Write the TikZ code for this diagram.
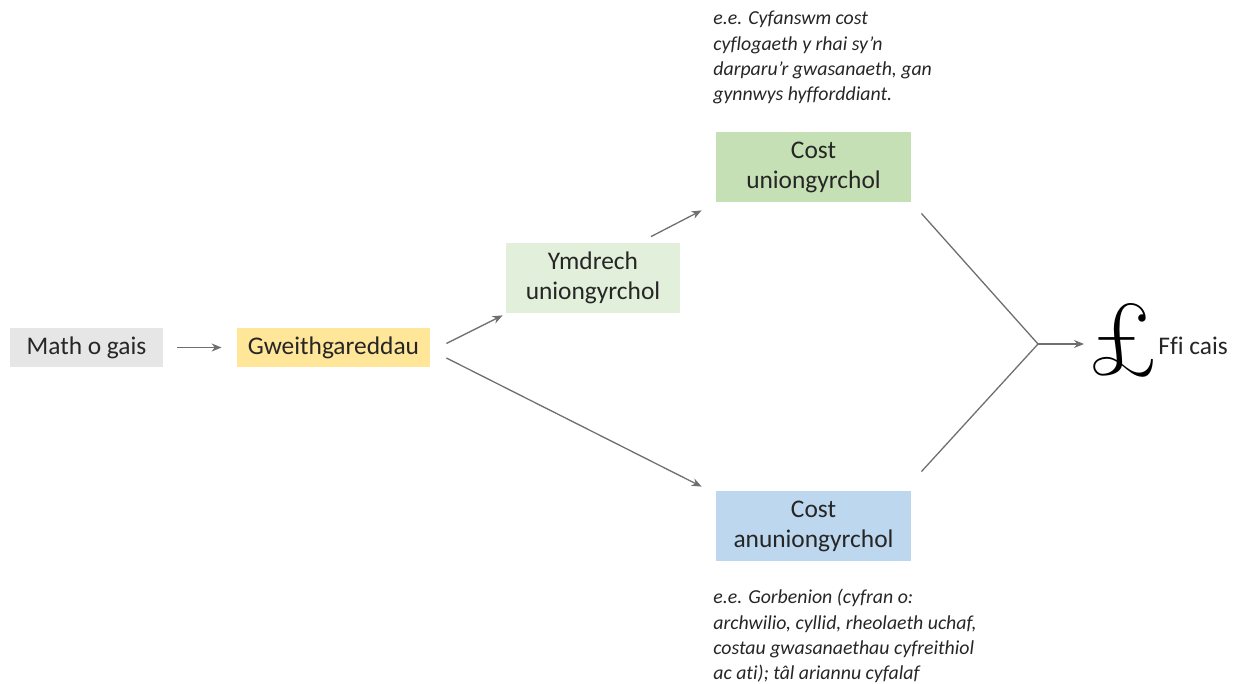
\documentclass[tikz,border=0pt]{standalone}
\usepackage{fontspec}
\setmainfont{Carlito}[Ligatures=NoCommon]
\newfontfamily\lmfont{Latin Modern Roman}
\usetikzlibrary{arrows.meta,calc,positioning}
\definecolor{boxgray}{HTML}{E7E6E6}
\definecolor{boxyellow}{HTML}{FFE699}
\definecolor{boxlgreen}{HTML}{E2EFDA}
\definecolor{boxgreen}{HTML}{C5E0B4}
\definecolor{boxblue}{HTML}{BDD7EE}
\definecolor{txtgray}{HTML}{262626}
\definecolor{argray}{HTML}{6F6F6F}
\tikzset{
	flow diagram/.style={
		x=0.5pt, y=-0.5pt,
		font=\fontsize{12.7}{15}\selectfont,
		text=txtgray},
	box/.style={fill=#1, inner sep=0pt, align=center},
	small box/.style={minimum width=#1, minimum height=19.5pt},
	big box/.style={minimum width=#1, minimum height=35pt},
	ar/.style={draw=argray, line width=0.65pt, -{Stealth[length=5pt,width=4pt]}},
	ln/.style={draw=argray, line width=0.65pt},
	note/.style={font=\fontsize{9.9}{12.6}\selectfont\itshape, align=left,
		inner sep=0pt, anchor=north west}
}

\begin{document}
\begin{tikzpicture}[flow diagram]
   \useasboundingbox (0,0) rectangle (1235,684);
   \node[box=boxgray, small box=76.5pt] (math) at (86.5,347.5) {Math o gais};
   \node[box=boxyellow, small box=96.5pt] (gweith) at (333.5,347.5) {Gweithgareddau};
   \node[box=boxlgreen, big box=87pt] (ymdrech) at (593,278) {Ymdrech\\uniongyrchol};
   \node[box=boxgreen, big box=97.5pt] (costu) at (813.5,167) {Cost\\uniongyrchol};
   \node[box=boxblue, big box=97.5pt] (costa) at (813.5,526) {Cost\\anuniongyrchol};
   \node[font=\lmfont\fontsize{52}{52}\selectfont, text=black, inner sep=0pt, anchor=base]
      (pound) at (1124,374) {£};
   \node[anchor=west, inner sep=0pt] (ffi) at (1158,346) {Ffi cais};
   \node[note] (noteu) at (713,11)
      {e.e. Cyfanswm cost\\cyflogaeth y rhai sy'n\\darparu'r gwasanaeth, gan\\gynnwys hyfforddiant.};
   \node[note] (notea) at (713,589)
      {e.e. Gorbenion (cyfran o:\\archwilio, cyllid, rheolaeth uchaf,\\costau gwasanaethau cyfreithiol\\ac ati); tâl ariannu cyfalaf};
   \coordinate (join) at (1038,344);
   \coordinate (feein) at (1084,344);
   % arrows
   \draw[ar, shorten <=7pt, shorten >=7.5pt] (math) -- (gweith);
   \draw[ar] ($(gweith.east)+(16,-4)$) -- ($(ymdrech.south west)+(-3,2)$);
   \draw[ar] ($(ymdrech.north)+(58,-6)$) -- ($(costu.south west)+(-14,8)$);
   \draw[ar] ($(gweith.east)+(16,10.5)$) -- ($(costa.north west)+(-14,-4)$);
   \draw[ln] ($(costu.south east)+(10,11)$) -- (join) -- ($(costa.north east)+(10,-19)$);
   \draw[ar] (join) -- (feein);
\end{tikzpicture}
\end{document}
